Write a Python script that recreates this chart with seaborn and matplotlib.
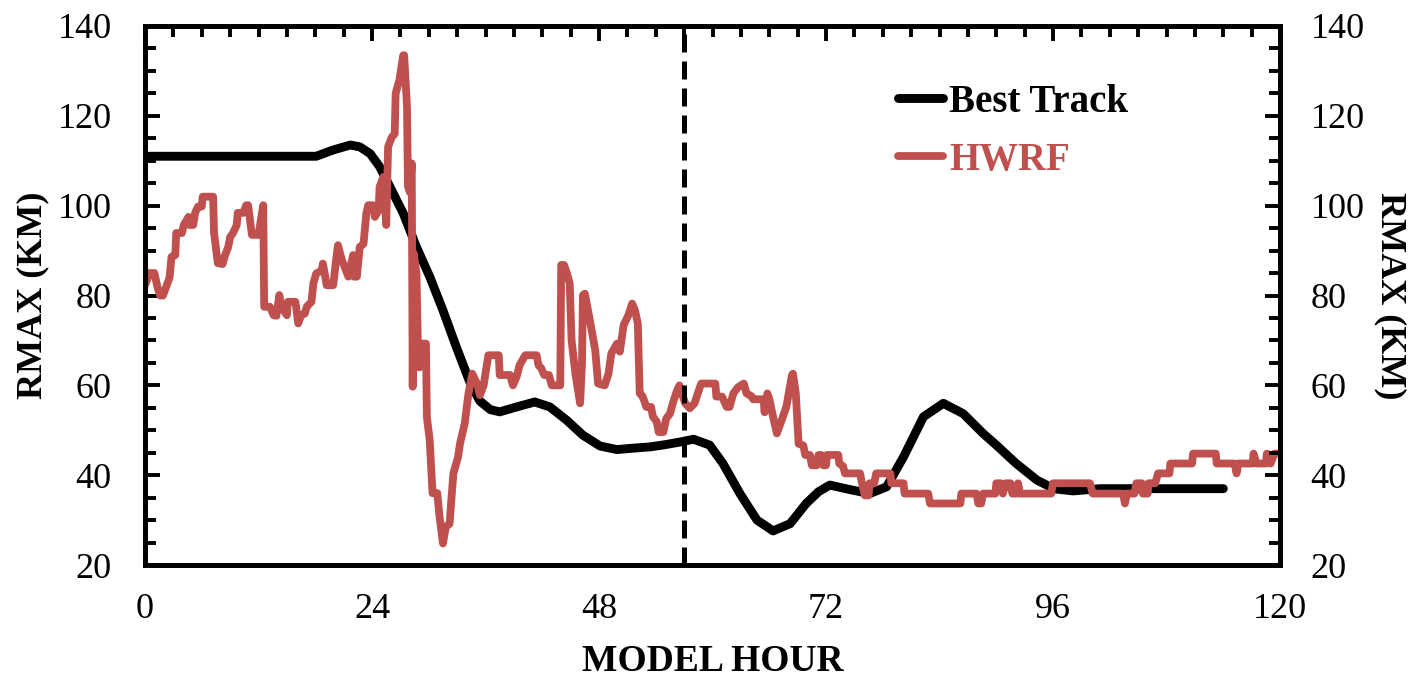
import numpy as np
import pandas as pd
import matplotlib
matplotlib.use("Agg")
import matplotlib.pyplot as plt
import seaborn as sns
from matplotlib.ticker import MultipleLocator

# ---------------- data ----------------
best_hours = [0, 3, 6, 9, 12, 15, 18.1, 19.9, 21.7, 22.7, 23.8, 24.8, 25.9, 27.3, 28.7,
              30.1, 31.5, 32.9, 34.4, 35.4, 36.5, 37.5, 39.3, 41.2, 42.8, 44.6, 46.3,
              48.1, 49.9, 51.5, 53.4, 55.0, 56.6, 58.0, 59.7, 61.1, 62.9, 64.7, 66.4,
              68.2, 69.9, 71.2, 72.4, 74.5, 76.6, 78.4, 80.2, 82.3, 84.4, 86.5, 88.6,
              90.0, 92.1, 94.3, 95.7, 96.0, 98.1, 101, 105, 110, 114]
best_rmax = [111, 111, 111, 111, 111, 111, 111, 112.4, 113.5, 113.1, 111.6, 108.7, 104.2,
             98.3, 90.8, 84.2, 76.7, 68.6, 60.4, 56.5, 54.6, 54.1, 55.2, 56.3, 55.2, 52.2,
             48.9, 46.5, 45.7, 46.0, 46.3, 46.8, 47.4, 48.0, 46.7, 42.6, 35.9, 30.0, 27.6,
             29.2, 33.7, 36.3, 37.8, 36.8, 35.9, 37.4, 44.1, 53.0, 56.0, 53.7, 49.3, 46.7,
             42.6, 38.9, 37.4, 37.0, 36.5, 37.0, 37.0, 37.0, 37.0]

hwrf_hours = [0.0, 0.5, 1.0, 1.3, 1.6, 1.9, 2.3, 2.6, 2.8, 3.2, 3.3, 3.9, 4.1, 4.6, 4.7, 5.1,
              5.3, 5.6, 6.0, 6.1, 7.2, 7.3, 7.7, 8.2, 8.4, 8.8, 9.0, 9.3, 9.7, 9.8, 10.4,
              10.7, 10.9, 11.3, 12.0, 12.5, 12.6, 13.2, 13.6, 13.9, 14.2, 14.4, 15.0, 15.1,
              15.9, 16.2, 16.5, 16.9, 17.1, 17.6, 17.8, 18.1, 18.7, 18.8, 19.0, 19.2, 19.9,
              20.2, 20.4, 20.8, 21.1, 21.5, 22.0, 22.1, 22.4, 22.7, 23.1, 23.4, 23.6, 24.1,
              24.3, 24.7, 24.8, 25.2, 25.5, 25.7, 26.1, 26.4, 26.5, 26.8, 26.9, 27.3, 27.4,
              27.7, 27.8, 28.0, 28.2, 28.3, 28.4, 28.7, 28.9, 29.0, 29.4, 29.7, 29.8, 30.1,
              30.4, 30.9, 31.1, 31.5, 31.8, 32.2, 32.6, 33.1, 33.3, 33.8, 34.2, 34.6, 35.1,
              35.4, 35.8, 36.3, 37.4, 37.5, 38.6, 38.9, 39.3, 39.6, 40.2, 41.4, 41.6, 41.9,
              42.2, 42.7, 43.0, 43.9, 44.0, 44.3, 44.6, 44.9, 45.1, 45.5, 46.0, 46.2, 46.3,
              46.5, 46.9, 47.6, 47.9, 48.6, 49.0, 49.3, 49.9, 50.2, 50.6, 51.1, 51.5, 51.8,
              52.1, 52.3, 52.6, 53.0, 53.5, 53.7, 54.1, 54.3, 54.8, 55.1, 55.5, 55.8, 56.2,
              56.5, 57.1, 57.6, 58.1, 58.5, 58.8, 60.3, 60.4, 61.0, 61.5, 61.8, 62.2, 62.7,
              63.3, 63.6, 64.1, 64.3, 65.4, 65.5, 65.8, 66.0, 66.4, 66.8, 67.3, 67.8, 68.4,
              68.5, 68.8, 69.1, 69.6, 69.8, 70.3, 70.5, 71.0, 71.2, 71.5, 71.7, 72.0, 72.1,
              73.3, 73.4, 73.8, 74.0, 75.6, 75.8, 76.1, 76.5, 76.6, 77.1, 77.3, 78.8, 78.9,
              80.2, 80.3, 82.8, 83.0, 86.2, 86.3, 87.9, 88.1, 88.4, 88.6, 89.9, 90.0, 90.5,
              90.7, 91.0, 91.5, 91.7, 92.2, 92.3, 92.5, 95.8, 96.0, 99.9, 100.2, 103.4,
              103.6, 103.8, 104.6, 104.8, 105.4, 105.5, 106.0, 106.1, 106.8, 107.1, 108.3,
              108.4, 110.7, 110.8, 113.2, 113.3, 115.2, 115.4, 115.6, 117.1, 117.2, 117.5,
              118.5, 118.6, 119.0, 119.4, 120.0]
hwrf_rmax = [82.3, 85, 85, 82, 80, 80, 82.3, 84, 88.6, 89, 93.9, 93.9, 95.7, 97.5, 95.7, 95.7,
             98.4, 99.8, 99.8, 102, 102, 93.9, 87.2, 87, 88.6, 90.8, 93, 93.9, 95.7, 98.4, 98.4,
             100.1, 100.1, 93.5, 93.5, 100.1, 77.5, 77.5, 75.6, 75.5, 80.1, 77.5, 75.6, 78.6,
             78.6, 73.8, 75.6, 76, 77.5, 78.6, 82.7, 84.9, 85.6, 87.1, 84.9, 82.3, 82.3,
             87.9, 91.2, 88, 86.4, 84.2, 89, 84.2, 84.2, 90.8, 91.5, 98.3, 100.1, 100.1,
             97.5, 99, 104.2, 106.4, 95.7, 113.1, 115.3, 116, 125, 127.2, 128, 133.5, 133.5,
             122, 104.2, 103, 109.4, 59.7, 89.4, 85, 64.1, 64, 69.3, 69.3, 53, 47.8,
             36, 36, 31.5, 24.8, 28.5, 29.2, 40.4, 44.1, 47, 51.5, 58.2, 62.6, 60.4,
             57.8, 60, 66.7, 66.7, 62.3, 62.3, 60, 62, 64.5, 66.7, 66.7, 64.5, 63.8,
             62.3, 62.3, 60, 60, 86.8, 86.8, 85, 82.7, 70, 62.6, 56, 64.9, 80.1,
             80.4, 76, 67.8, 60.4, 60, 62.6, 67.1, 69.3, 67.5, 73.4, 75.6, 78.2, 76.7,
             73.8, 58.2, 57.6, 55.2, 55.2, 53, 51.9, 49.6, 49.6, 52.6, 53.7, 56, 58.6,
             60, 56, 54.9, 56, 58.6, 60.4, 60.4, 57.5, 57.5, 55.2, 55.2, 58.2, 59.6,
             60.4, 58.2, 57.6, 56.9, 56.9, 54, 58.2, 57, 53, 49.3, 52.2, 55.2, 62.3,
             62.6, 58.3, 47, 46.6, 44.5, 44.5, 42.2, 42.2, 44.5, 44.5, 42.2, 42.2, 44.5,
             44.5, 42.6, 42, 40.4, 40.4, 38.2, 35.5, 35.5, 38.2, 38.2, 40.4, 40.4, 38.2,
             38.2, 35.9, 35.9, 33.7, 33.7, 35.9, 35.9, 33.7, 33.7, 35.9, 35.9, 38.2, 38.2,
             35.9, 38.2, 38.2, 35.9, 35.9, 38.2, 35.9, 35.9, 38.2, 38.2, 35.9, 35.9,
             33.7, 35.9, 35.9, 38.2, 38.2, 35.9, 35.9, 38.2, 38.2, 40.4, 40.4,
             42.6, 42.6, 44.8, 44.8, 42.6, 42.6, 40.4, 42.6, 42.6, 44.8, 42.6,
             42.6, 44.8, 42.6, 44.8, 44.8]

x_ticks = [0, 24, 48, 72, 96, 120]
y_ticks = [20, 40, 60, 80, 100, 120, 140]
marker_hour = 57
series_names = ["Best Track", "HWRF"]

# ---------------- style ----------------
sns.set_style("white")
plt.rcParams['font.family'] = ['Liberation Serif', 'DejaVu Serif']
for key in ["text.color", "axes.labelcolor", "xtick.color", "ytick.color", "axes.edgecolor"]:
    plt.rcParams[key] = "black"
RED = "#C0504D"
BLACK_LW = 6.4
RED_LW = 5.6

fig = plt.figure(figsize=(14.16, 6.77), dpi=100)
ax = fig.add_axes([0.1024, 0.1654, 0.8016, 0.7962])

best_df = pd.DataFrame({"hour": best_hours, "rmax": best_rmax})
hwrf_df = pd.DataFrame({"hour": hwrf_hours, "rmax": hwrf_rmax})

sns.lineplot(data=best_df, x="hour", y="rmax", ax=ax, color="black",
             estimator=None, sort=False, label=series_names[0])
sns.lineplot(data=hwrf_df, x="hour", y="rmax", ax=ax, color=RED,
             estimator=None, sort=False, label=series_names[1])
for ln, lw in zip(ax.lines[:2], [BLACK_LW, RED_LW]):
    ln.set_linewidth(lw)
    ln.set_solid_capstyle("round")
    ln.set_solid_joinstyle("round")
ax.axvline(marker_hour, color="black", linewidth=3.6, linestyle=(0, (3.6, 1.8)))

ax.set_xlim(0, 120)
ax.set_ylim(20, 140)
ax.set_xticks(x_ticks)
ax.set_yticks(y_ticks)
ax.xaxis.set_minor_locator(MultipleLocator(3))
ax.yaxis.set_minor_locator(MultipleLocator(5))
ax.tick_params(axis="both", which="major", direction="in", length=11, width=2.8,
               labelsize=26, top=True, right=False, color="black", labelcolor="black")
ax.tick_params(axis="both", which="minor", direction="in", length=8, width=2.8,
               top=True, right=False, color="black")
ax.tick_params(axis="x", which="major", pad=20)
ax.tick_params(axis="y", which="major", pad=24)
for s in ax.spines.values():
    s.set_linewidth(3.4)
    s.set_color("black")

ax.set_xlabel("MODEL HOUR", fontsize=27, fontweight="bold", labelpad=13, color="black")
ax.set_ylabel("RMAX (KM)", fontsize=26, fontweight="bold", labelpad=6, color="black")

ax2 = ax.twinx()
ax2.set_ylim(20, 140)
ax2.set_yticks(y_ticks)
ax2.yaxis.set_minor_locator(MultipleLocator(5))
ax2.tick_params(axis="y", which="major", direction="in", length=11, width=2.8,
                labelsize=26, pad=22, color="black", labelcolor="black")
ax2.tick_params(axis="y", which="minor", direction="in", length=8, width=2.8, color="black")
for s in ax2.spines.values():
    s.set_linewidth(3.4)
    s.set_color("black")
ax2.set_ylabel("RMAX (KM)", fontsize=26, fontweight="bold", rotation=270, labelpad=30,
               color="black")

leg = ax.legend(loc="upper left", bbox_to_anchor=(0.633, 0.958), frameon=False,
                handlelength=1.15, handletextpad=0.15, labelspacing=0.55,
                prop={"size": 28, "weight": "bold"})
leg.get_lines()[0].set_linewidth(BLACK_LW)
leg.get_lines()[1].set_linewidth(RED_LW)
for txt, line in zip(leg.get_texts(), leg.get_lines()):
    txt.set_color(line.get_color())

fig.savefig("out.png", dpi=100)
